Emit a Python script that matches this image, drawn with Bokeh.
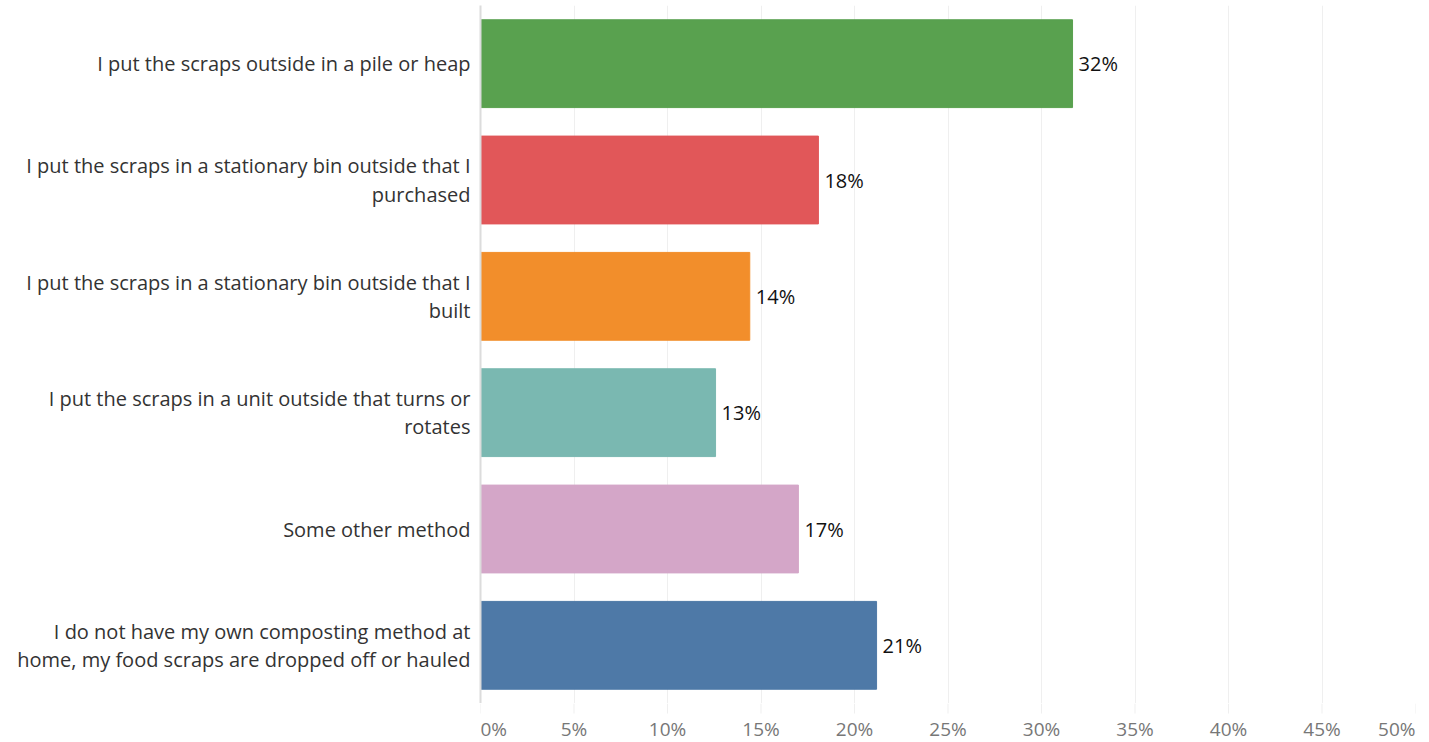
from bokeh.plotting import figure
from bokeh.layouts import column
from bokeh.models import ColumnDataSource, FactorRange, FixedTicker, Range1d
from bokeh.core.properties import value
from bokeh.embed import file_html
from bokeh.resources import INLINE

categories = [
    "I put the scraps outside in a pile or heap",
    "I put the scraps in a stationary bin outside that I\npurchased",
    "I put the scraps in a stationary bin outside that I\nbuilt",
    "I put the scraps in a unit outside that turns or\nrotates",
    "Some other method",
    "I do not have my own composting method at\nhome, my food scraps are dropped off or hauled",
]
values = [31.66, 18.07, 14.4, 12.57, 17.0, 21.18]
colors = ["#59a14f", "#e15759", "#f28e2b", "#7ab8b1", "#d4a6c8", "#4e79a7"]
tick_values = [0, 5, 10, 15, 20, 25, 30, 35, 40, 45, 50]
tick_labels = ["0%", "5%", "10%", "15%", "20%", "25%", "30%", "35%", "40%", "45%", "50%"]
tick_align = ["left"] + ["center"] * 9 + ["right"]

FONT = "Open Sans"
SIZE = "20px"
GRID = "#efefef"
W = 1421
LEFT = 480
RIGHT = 6

src = ColumnDataSource(dict(
    cat=categories,
    val=values,
    color=colors,
    label=[f"{round(v)}%" for v in values],
))

x_range = Range1d(0, 50)

p = figure(
    width=W, height=703,
    y_range=FactorRange(factors=list(reversed(categories)), range_padding=0),
    x_range=x_range,
    output_backend="svg", toolbar_location=None,
    min_border_left=LEFT, min_border_right=RIGHT, min_border_top=5, min_border_bottom=0,
)
p.hbar(y="cat", right="val", left=0, height=0.755, color="color", source=src)

p.text(x="val", y="cat", text="label", source=src, x_offset=6,
       text_baseline="middle", text_align="left", text_color="#111111",
       text_font=value(FONT), text_font_size=SIZE)

p.xaxis.visible = False
p.xgrid.grid_line_color = GRID
p.xgrid.ticker = FixedTicker(ticks=tick_values)

p.yaxis.axis_line_color = "#dcdcdc"
p.yaxis.axis_line_width = 2
p.yaxis.major_tick_line_color = None
p.yaxis.minor_tick_line_color = None
p.yaxis.major_label_standoff = 4
p.yaxis.major_label_text_font = FONT
p.yaxis.major_label_text_font_size = SIZE
p.yaxis.major_label_text_line_height = 1.05
p.yaxis.major_label_text_color = "#333333"
p.ygrid.grid_line_color = None
p.outline_line_color = None

# x-axis strip (tick marks and tick labels)
p2 = figure(
    width=W, height=38,
    x_range=x_range, y_range=Range1d(0, 38),
    output_backend="svg", toolbar_location=None,
    min_border_left=LEFT, min_border_right=RIGHT, min_border_top=0, min_border_bottom=0,
)
tick_src = ColumnDataSource(dict(
    x=tick_values,
    top=[38] * len(tick_values),
    bottom=[28] * len(tick_values),
    lab_y=[13] * len(tick_values),
    text=tick_labels,
    align=tick_align,
))
p2.segment(x0="x", x1="x", y0="top", y1="bottom", source=tick_src,
           line_color=GRID, line_width=1)
p2.text(x="x", y="lab_y", text="text", source=tick_src, text_align="align",
        text_baseline="middle", text_color="#777777",
        text_font=value(FONT), text_font_size="19px")
p2.axis.visible = False
p2.grid.grid_line_color = None
p2.outline_line_color = None

open("out.html", "w").write(file_html(column(p, p2), INLINE))
